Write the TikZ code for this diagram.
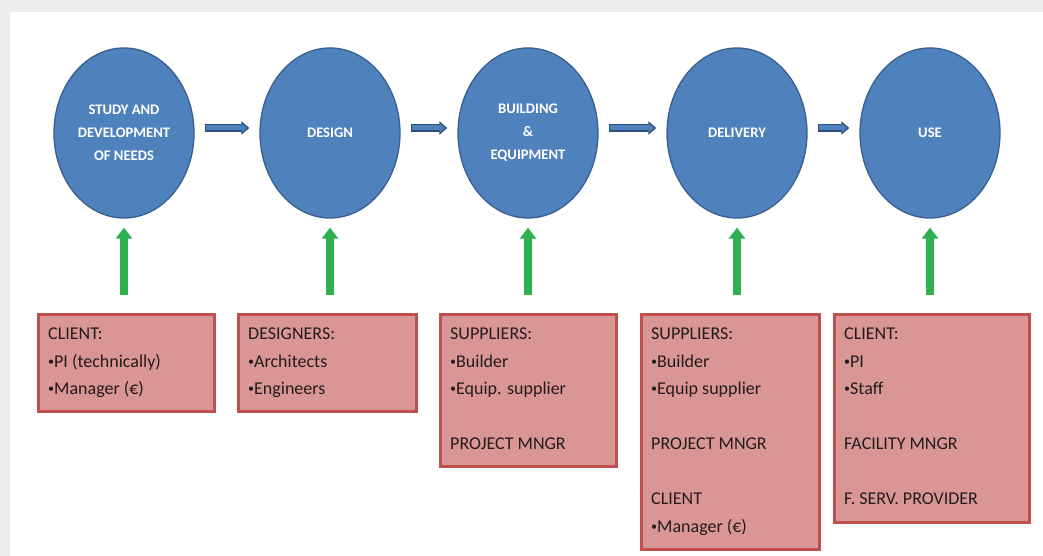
\documentclass[tikz,border=0pt]{standalone}
\usepackage{fontspec}
\setmainfont{Carlito}
\usetikzlibrary{shapes.geometric,arrows.meta,calc}
\definecolor{bggray}{HTML}{EEECEA}
\definecolor{phaseblue}{HTML}{4F81BD}
\definecolor{phaseedge}{HTML}{3A5F8E}
\definecolor{arrowdark}{HTML}{2F4F7F}
\definecolor{boxfill}{HTML}{D99694}
\definecolor{boxedge}{HTML}{C0504D}
\definecolor{arrowgreen}{HTML}{2EB04F}
\definecolor{textdark}{HTML}{241C1C}
\newcommand{\smallbul}{\raisebox{2pt}{\fontsize{12}{12}\selectfont•}}
\begin{document}
\begin{tikzpicture}[x=1pt,y=-1pt,
  phase/.style={ellipse, fill=phaseblue, draw=phaseedge, line width=1.3pt,
    minimum width=140pt, minimum height=170pt, inner sep=0pt, align=center,
    text=white, font=\fontsize{14.6}{23}\selectfont\bfseries},
  rolebox/.style={rectangle, fill=boxfill, draw=boxedge, line width=2.5pt,
    anchor=north west, inner sep=0pt},
  boxtext/.style={anchor=north west, inner sep=0pt, align=left, text=textdark,
    font=\fontsize{18}{27.5}\selectfont},
  flowout/.style={draw=arrowdark, line width=8pt,
    -{Triangle[width=13pt,length=8pt]}, shorten <=10pt, shorten >=10pt},
  flowin/.style={draw=phaseblue, line width=5pt,
    -{Triangle[width=8.5pt,length=5pt]}, shorten <=11.5pt, shorten >=12.5pt},
  greenup/.style={draw=arrowgreen, line width=8pt,
    -{Triangle[width=16pt,length=11pt]}, shorten <=18pt, shorten >=9pt}]
\useasboundingbox (0,0) rectangle (1043,556);
\fill[bggray] (0,0) rectangle (1043,556);
\fill[white] (10,12) rectangle (1043,556);

% phases
\node[phase] (e1) at (124,133) {STUDY AND\\DEVELOPMENT\\OF NEEDS};
\node[phase] (e2) at (330,133) {DESIGN};
\node[phase] (e3) at (528,133) {BUILDING\\\&\\EQUIPMENT};
\node[phase] (e4) at (737,133) {DELIVERY};
\node[phase] (e5) at (930,133) {USE};

% flow arrows
\foreach \a/\b in {e1/e2,e2/e3,e3/e4,e4/e5}{
  \draw[flowout] ([yshift=5pt]\a.east) -- ([yshift=5pt]\b.west);
  \draw[flowin] ([yshift=5pt]\a.east) -- ([yshift=5pt]\b.west);
}

% role boxes
\node[rolebox, minimum width=176pt, minimum height=97pt] (b1) at (37,313) {};
\node[rolebox, minimum width=178pt, minimum height=97pt] (b2) at (237,313) {};
\node[rolebox, minimum width=176pt, minimum height=152pt] (b3) at (439,313) {};
\node[rolebox, minimum width=178pt, minimum height=235pt] (b4) at (640,313) {};
\node[rolebox, minimum width=195pt, minimum height=208pt] (b5) at (833,313) {};

\node[boxtext] (t1) at ($(b1.north west)+(11,0)$)
  {\rule{0pt}{26.5pt}CLIENT:\\\smallbul PI (technically)\\\smallbul Manager (€)};
\node[boxtext] (t2) at ($(b2.north west)+(11,0)$)
  {\rule{0pt}{26.5pt}DESIGNERS:\\\smallbul Architects\\\smallbul Engineers};
\node[boxtext] (t3) at ($(b3.north west)+(11,0)$)
  {\rule{0pt}{26.5pt}SUPPLIERS:\\\smallbul Builder\\\smallbul Equip. supplier\\[27.5pt]PROJECT MNGR};
\node[boxtext] (t4) at ($(b4.north west)+(11,0)$)
  {\rule{0pt}{26.5pt}SUPPLIERS:\\\smallbul Builder\\\smallbul Equip supplier\\[27.5pt]PROJECT MNGR\\[27.5pt]CLIENT\\\smallbul Manager (€)};
\node[boxtext] (t5) at ($(b5.north west)+(11,0)$)
  {\rule{0pt}{26.5pt}CLIENT:\\\smallbul PI\\\smallbul Staff\\[27.5pt]FACILITY MNGR\\[27.5pt]F. SERV. PROVIDER};

% green arrows
\foreach \i in {1,...,5}{
  \draw[greenup] (b\i.north -| e\i.south) -- (e\i.south);
}
\end{tikzpicture}
\end{document}
